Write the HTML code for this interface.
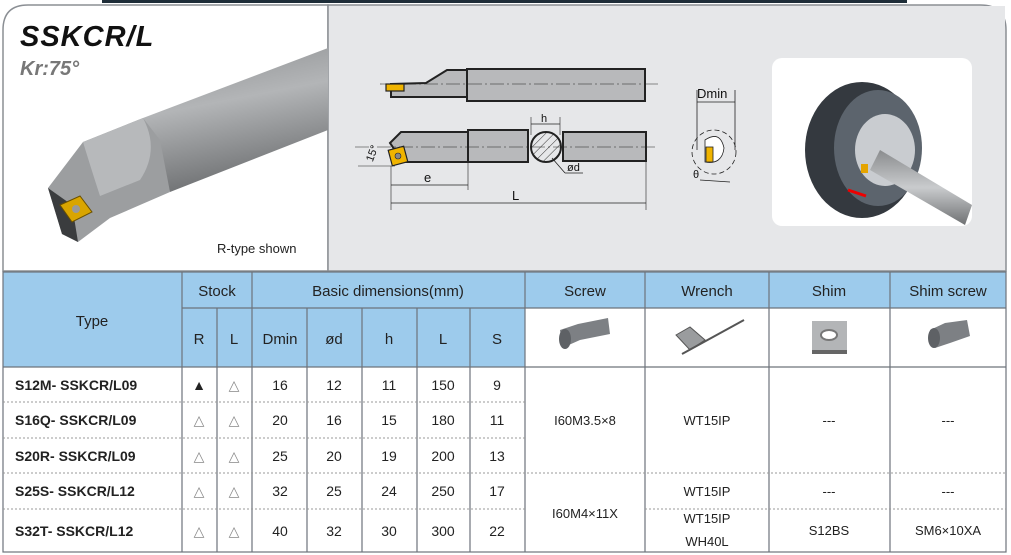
<!DOCTYPE html>
<html><head><meta charset="utf-8"><style>
html,body{margin:0;padding:0;background:#fff;}
svg{display:block;font-family:"Liberation Sans",Arial,sans-serif;}
</style></head><body>
<svg width="1011" height="555" viewBox="0 0 1011 555" xmlns="http://www.w3.org/2000/svg" style="position:absolute;left:0;top:0">
<defs>
<linearGradient id="bar" x1="0" y1="0" x2="0.25" y2="1"><stop offset="0" stop-color="#8d8f91"/><stop offset="0.45" stop-color="#b3b5b7"/><stop offset="1" stop-color="#707274"/></linearGradient>
<linearGradient id="bar2" x1="0" y1="0" x2="0" y2="1"><stop offset="0" stop-color="#8a8c8e"/><stop offset="0.5" stop-color="#c9cbcd"/><stop offset="1" stop-color="#6f7173"/></linearGradient>
<pattern id="hatch" width="6" height="6" patternUnits="userSpaceOnUse" patternTransform="rotate(45)"><line x1="0" y1="0" x2="0" y2="6" stroke="#333" stroke-width="1"/></pattern>
</defs>
<rect x="102" y="0" width="805" height="3" fill="#1e2d38"/>
<path d="M3,271 L3,30 Q3,5 28,5 L328,5 L328,271 Z" fill="#fff" stroke="#8b8f94" stroke-width="1.5"/>
<path d="M328,5 L980,5 Q1006,5 1006,30 L1006,271 L328,271 Z" fill="#e6e7e9" stroke="#8b8f94" stroke-width="1.5"/>
<rect x="329" y="6" width="676" height="264" fill="#e6e7e9"/>
<!-- left tool photo -->
<polygon points="143,118 328,48 328,130 170,192" fill="url(#bar)"/>
<polygon points="48,188 83,142 143,118 160,140 170,192 110,218 78,242 62,234" fill="#9c9ea0"/>
<path d="M83,142 L143,118 Q160,150 140,180 L100,196 Q90,165 83,142 Z" fill="#b7b9bb"/>
<polygon points="48,188 62,234 78,242 72,205" fill="#3a3c3e"/>
<polygon points="60,205 80,196 92,212 72,222" fill="#d9a500" stroke="#6a5000"/>
<circle cx="76" cy="209" r="4" fill="#999"/>
<text x="20" y="46" font-size="29" font-weight="bold" font-style="italic" fill="#111" letter-spacing="1">SSKCR/L</text>
<text x="20" y="75" font-size="20" font-weight="bold" font-style="italic" fill="#777">Kr:75°</text>
<text x="217" y="253" font-size="13" fill="#222">R-type shown</text>
<g stroke="#222" stroke-width="1.2">
<rect x="467" y="69" width="178" height="32" fill="#b8b9bb" stroke-width="2"/>
<polygon points="391,84 426,83 447,70 467,70 467,97 391,97" fill="#b8b9bb" stroke-width="2"/>
<rect x="386" y="84" width="18" height="7" fill="#f0b400"/>
<line x1="380" y1="84" x2="658" y2="84" stroke-width="0.6" stroke-dasharray="14,3,2,3"/>
<polygon points="390,143 401,132 468,132 468,162 403,162" fill="#b8b9bb" stroke-width="2"/>
<rect x="468" y="130" width="60" height="32" fill="#b8b9bb" stroke-width="2"/>
<rect x="563" y="132" width="83" height="29" fill="#b8b9bb" stroke-width="2"/>
<circle cx="546" cy="147" r="15" fill="url(#hatch)" stroke-width="2"/>
<rect x="390" y="148" width="16" height="16" transform="rotate(-15 398 156)" fill="#f0b400"/>
<circle cx="398" cy="156" r="3" fill="#888" stroke-width="0.6"/>
<line x1="355" y1="147" x2="658" y2="147" stroke-width="0.6" stroke-dasharray="14,3,2,3"/>
<line x1="358" y1="166" x2="395" y2="166" stroke-width="0.6"/>
<line x1="391" y1="166" x2="391" y2="210" stroke-width="0.6"/>
<line x1="468" y1="162" x2="468" y2="190" stroke-width="0.6"/>
<line x1="646" y1="161" x2="646" y2="210" stroke-width="0.6"/>
<line x1="391" y1="185" x2="468" y2="185" stroke-width="0.8"/>
<line x1="391" y1="203" x2="646" y2="203" stroke-width="0.8"/>
<line x1="531" y1="117" x2="531" y2="135" stroke-width="0.6"/>
<line x1="560" y1="117" x2="560" y2="135" stroke-width="0.6"/>
<line x1="531" y1="124" x2="560" y2="124" stroke-width="0.8"/>
<line x1="552" y1="158" x2="565" y2="173" stroke-width="0.8"/>
<line x1="565" y1="173" x2="583" y2="173" stroke-width="0.8"/>
</g>
<g font-size="13" fill="#111">
<text x="424" y="182">e</text>
<text x="512" y="200">L</text>
<text x="541" y="122" font-size="11">h</text>
<text x="567" y="171" font-size="11">ød</text>
<text x="364" y="160" font-size="11" transform="rotate(-70 370 155)">15°</text>
<text x="697" y="98">Dmin</text>
<text x="693" y="178" font-size="11">θ</text>
</g>
<g stroke="#222" stroke-width="0.8" fill="none">
<line x1="697" y1="90" x2="697" y2="150"/><line x1="735" y1="90" x2="735" y2="150"/>
<line x1="697" y1="102" x2="735" y2="102"/>
<circle cx="714" cy="152" r="22" stroke-dasharray="5,3"/>
<path d="M705,140 Q720,130 724,148 Q722,165 705,162 Z" fill="#fff"/>
<line x1="700" y1="180" x2="730" y2="182"/>
</g>
<rect x="706" y="147" width="7" height="15" fill="#f0b400" stroke="#222" stroke-width="0.8"/>
<rect x="772" y="58" width="200" height="168" rx="10" fill="#fff"/>
<ellipse cx="862" cy="150" rx="57" ry="68" fill="#34393f"/>
<ellipse cx="878" cy="148" rx="44" ry="58" fill="#5c646d"/>
<ellipse cx="885" cy="150" rx="30" ry="36" fill="#c9ccd0"/>
<polygon points="870,170 880,150 972,205 965,225" fill="url(#bar2)"/>
<rect x="861" y="164" width="7" height="9" fill="#e5a400"/>
<line x1="848" y1="190" x2="866" y2="196" stroke="#e00" stroke-width="3"/>
<!-- table -->
<rect x="3" y="272" width="1003" height="95" fill="#9dcbec"/>
<rect x="525" y="308" width="481" height="59" fill="#fff"/>
<rect x="3" y="367" width="1003" height="185" fill="#fff"/>
<g stroke="#6d737b" stroke-width="1.2" fill="none">
<rect x="3" y="272" width="1003" height="280"/>
<line x1="182" y1="308" x2="1006" y2="308"/>
<line x1="3" y1="367" x2="1006" y2="367"/>
<line x1="182" y1="272" x2="182" y2="552"/>
<line x1="217" y1="308" x2="217" y2="552"/>
<line x1="252" y1="272" x2="252" y2="552"/>
<line x1="307" y1="308" x2="307" y2="552"/>
<line x1="362" y1="308" x2="362" y2="552"/>
<line x1="417" y1="308" x2="417" y2="552"/>
<line x1="470" y1="308" x2="470" y2="552"/>
<line x1="525" y1="272" x2="525" y2="552"/>
<line x1="645" y1="272" x2="645" y2="552"/>
<line x1="769" y1="272" x2="769" y2="552"/>
<line x1="890" y1="272" x2="890" y2="552"/>
</g>
<g stroke="#999" stroke-width="1" stroke-dasharray="2,2">
<line x1="3" y1="402" x2="525" y2="402"/>
<line x1="3" y1="438" x2="525" y2="438"/>
<line x1="3" y1="473" x2="1006" y2="473"/>
<line x1="3" y1="509" x2="525" y2="509"/>
<line x1="645" y1="509" x2="1006" y2="509"/>
</g>
<g font-size="15" fill="#222" text-anchor="middle">
<text x="92" y="326">Type</text>
<text x="217" y="296">Stock</text>
<text x="388" y="296">Basic dimensions(mm)</text>
<text x="585" y="296">Screw</text>
<text x="707" y="296">Wrench</text>
<text x="829" y="296">Shim</text>
<text x="948" y="296">Shim screw</text>
<text x="199" y="344">R</text><text x="234" y="344">L</text>
<text x="280" y="344">Dmin</text><text x="334" y="344">ød</text>
<text x="389" y="344">h</text><text x="443" y="344">L</text><text x="497" y="344">S</text>
</g>
<g>
<polygon points="560,330 578,324 608,318 610,334 580,340 562,348" fill="#7d8084"/>
<ellipse cx="565" cy="339" rx="6" ry="10" fill="#5e6165"/>
<polygon points="676,335 690,327 705,340 690,350" fill="#9a9c9e" stroke="#555"/>
<line x1="682" y1="354" x2="744" y2="320" stroke="#555" stroke-width="2"/>
<rect x="812" y="321" width="35" height="33" fill="#b3b5b7"/>
<rect x="812" y="350" width="35" height="4" fill="#666"/>
<ellipse cx="829" cy="335" rx="8" ry="5" fill="#fff" stroke="#777" stroke-width="2"/>
<polygon points="930,330 945,323 967,320 970,336 950,343 935,348" fill="#7d8084"/>
<ellipse cx="934" cy="338" rx="6" ry="10" fill="#5e6165"/>
</g>
<g font-size="14" fill="#222" text-anchor="middle">
<g font-weight="bold" text-anchor="start">
<text x="15" y="390">S12M- SSKCR/L09</text>
<text x="15" y="425">S16Q- SSKCR/L09</text>
<text x="15" y="461">S20R- SSKCR/L09</text>
<text x="15" y="496">S25S- SSKCR/L12</text>
<text x="15" y="536">S32T- SSKCR/L12</text>
</g>
<text x="199" y="390">▲</text><text x="234" y="390" fill="#888">△</text>
<text x="199" y="425" fill="#888">△</text><text x="234" y="425" fill="#888">△</text>
<text x="199" y="461" fill="#888">△</text><text x="234" y="461" fill="#888">△</text>
<text x="199" y="496" fill="#888">△</text><text x="234" y="496" fill="#888">△</text>
<text x="199" y="536" fill="#888">△</text><text x="234" y="536" fill="#888">△</text>
<text x="280" y="390">16</text><text x="334" y="390">12</text><text x="389" y="390">11</text><text x="443" y="390">150</text><text x="497" y="390">9</text>
<text x="280" y="425">20</text><text x="334" y="425">16</text><text x="389" y="425">15</text><text x="443" y="425">180</text><text x="497" y="425">11</text>
<text x="280" y="461">25</text><text x="334" y="461">20</text><text x="389" y="461">19</text><text x="443" y="461">200</text><text x="497" y="461">13</text>
<text x="280" y="496">32</text><text x="334" y="496">25</text><text x="389" y="496">24</text><text x="443" y="496">250</text><text x="497" y="496">17</text>
<text x="280" y="536">40</text><text x="334" y="536">32</text><text x="389" y="536">30</text><text x="443" y="536">300</text><text x="497" y="536">22</text>
<g font-size="13">
<text x="585" y="425">I60M3.5×8</text>
<text x="707" y="425">WT15IP</text>
<text x="829" y="425">---</text>
<text x="948" y="425">---</text>
<text x="585" y="518">I60M4×11X</text>
<text x="707" y="496">WT15IP</text>
<text x="829" y="496">---</text>
<text x="948" y="496">---</text>
<text x="707" y="523">WT15IP</text>
<text x="707" y="546">WH40L</text>
<text x="829" y="535">S12BS</text>
<text x="948" y="535">SM6×10XA</text>
</g>
</g>
</svg>
</body></html>
